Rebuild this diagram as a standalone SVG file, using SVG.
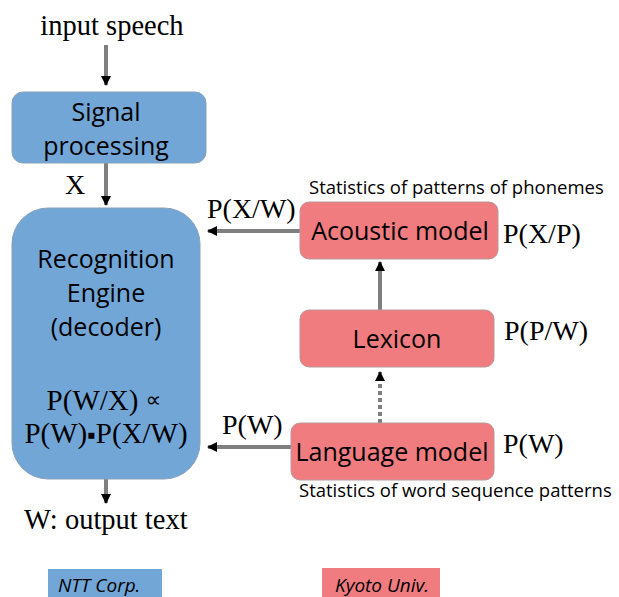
<svg xmlns="http://www.w3.org/2000/svg" width="619" height="597" viewBox="0 0 619 597">
<defs>
<marker id="ah" viewBox="0 0 10 10" refX="9" refY="5" markerWidth="10" markerHeight="10" markerUnits="userSpaceOnUse" orient="auto"><path d="M0,0 L10,5 L0,10 z" fill="#000"/></marker>
<style>
.blue{fill:#72a6d7;stroke:#8aa0b8;stroke-width:1}
.pink{fill:#f17c80;stroke:#b8989a;stroke-width:1}
.serif{font-family:"Liberation Serif",serif;fill:#000}
.sans{font-family:"Open Sans","Liberation Sans",sans-serif;fill:#000}
.c{text-anchor:middle}
.ln{stroke:#7f7f7f;stroke-width:4;fill:none}
</style>
</defs>
<rect width="619" height="597" fill="#fff"/>
<g id="connectors">
<line class="ln" x1="106" y1="45" x2="106" y2="85" marker-end="url(#ah)"/>
<line class="ln" x1="106" y1="163" x2="106" y2="205" marker-end="url(#ah)"/>
<line class="ln" x1="106" y1="479" x2="106" y2="503" marker-end="url(#ah)"/>
<line class="ln" x1="300" y1="231" x2="208" y2="231" marker-end="url(#ah)"/>
<line class="ln" x1="291" y1="447" x2="208" y2="447" marker-end="url(#ah)"/>
<line class="ln" x1="380" y1="310" x2="380" y2="262" marker-end="url(#ah)"/>
<line class="ln" x1="380" y1="423" x2="380" y2="372" stroke-dasharray="4,3" marker-end="url(#ah)"/>
<text class="serif" x="207" y="218" font-size="28">P(X/W)</text>
<text class="serif" x="222" y="434" font-size="28">P(W)</text>
<text class="serif" x="65" y="194" font-size="28">X</text>
</g>
<g id="input"><text class="serif c" x="112" y="35" font-size="28.5">input speech</text></g>
<g id="signal">
<rect class="blue" x="12" y="92" width="194" height="71" rx="11"/>
<text class="sans c" x="106" y="121" font-size="25">Signal</text>
<text class="sans c" x="106" y="155" font-size="25">processing</text>
</g>
<g id="engine">
<rect class="blue" x="12" y="208" width="188" height="271" rx="36"/>
<text class="sans c" x="106" y="268" font-size="25">Recognition</text>
<text class="sans c" x="106" y="302" font-size="25">Engine</text>
<text class="sans c" x="106" y="336" font-size="25">(decoder)</text>
<text class="serif c" x="104" y="410" font-size="29">P(W/X) <tspan font-family="DejaVu Sans, sans-serif" font-size="22" dy="-3">∝</tspan></text>
<text class="serif c" x="106" y="443" font-size="29">P(W)<tspan font-size="24">▪</tspan>P(X/W)</text>
</g>
<g id="acoustic">
<text class="sans" x="309" y="194" font-size="18.5">Statistics of patterns of phonemes</text>
<rect class="pink" x="300" y="202" width="198" height="57" rx="9"/>
<text class="sans c" x="400" y="240" font-size="25">Acoustic model</text>
<text class="serif" x="503" y="243" font-size="28">P(X/P)</text>
</g>
<g id="lexicon">
<rect class="pink" x="300" y="310" width="194" height="57" rx="9"/>
<text class="sans c" x="397" y="348" font-size="25">Lexicon</text>
<text class="serif" x="504" y="340" font-size="28">P(P/W)</text>
</g>
<g id="language">
<rect class="pink" x="291" y="423" width="203" height="57" rx="9"/>
<text class="sans c" x="392" y="461" font-size="25">Language model</text>
<text class="serif" x="503" y="453" font-size="28">P(W)</text>
<text class="sans" x="299" y="497" font-size="18.5">Statistics of word sequence patterns</text>
</g>
<g id="output"><text class="serif" x="24" y="529" font-size="28.5">W: output text</text></g>
<g id="ntt">
<rect x="48" y="569" width="114" height="28" fill="#72a6d7"/>
<text class="sans" x="58" y="592" font-size="19" font-style="italic">NTT Corp.</text>
</g>
<g id="kyoto">
<rect x="322" y="568" width="118" height="29" fill="#f17c80"/>
<text class="sans" x="335" y="592" font-size="19" font-style="italic">Kyoto Univ.</text>
</g>
</svg>
